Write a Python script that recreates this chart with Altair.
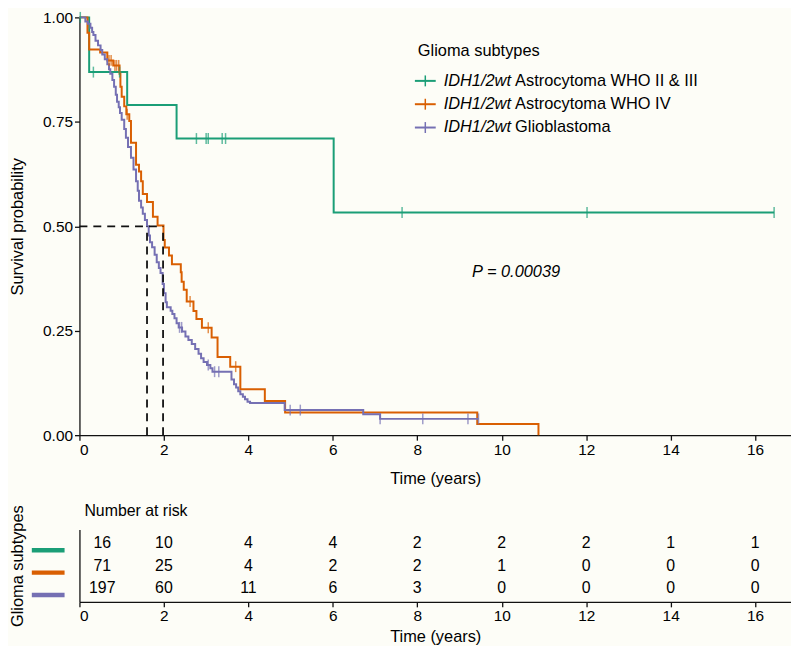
import altair as alt
import pandas as pd

FONT = "Liberation Sans"

# ---------------- data ----------------
groups = ["Astrocytoma WHO II & III", "Astrocytoma WHO IV", "Glioblastoma"]
prefix = "IDH1/2wt"
colors = ["#1b9e77", "#d95f02", "#7570b3"]

green_t = [0, 0.23, 1.13, 2.30, 6.02, 16.45]
green_s = [1.0, 0.869, 0.790, 0.710, 0.533, 0.533]

orange_t = [0, 0.19, 0.23, 0.49, 0.66, 0.80, 0.95, 0.97, 1.00, 1.06, 1.11, 1.18, 1.22,
            1.34, 1.41, 1.46, 1.50, 1.60, 1.74, 1.85, 1.99, 2.02, 2.12, 2.19, 2.40,
            2.42, 2.47, 2.54, 2.70, 2.77, 2.90, 3.13, 3.27, 3.57, 3.81, 4.39, 4.87,
            9.42, 10.87]
orange_s = [1.0, 0.963, 0.923, 0.916, 0.897, 0.885, 0.865, 0.834, 0.810, 0.787, 0.768,
            0.752, 0.700, 0.647, 0.631, 0.608, 0.577, 0.558, 0.523, 0.502, 0.467,
            0.449, 0.430, 0.409, 0.390, 0.367, 0.348, 0.320, 0.297, 0.278, 0.257,
            0.234, 0.187, 0.164, 0.110, 0.082, 0.054, 0.027, 0.0]

purple_t = [0, 0.10, 0.14, 0.20, 0.26, 0.30, 0.33, 0.38, 0.44, 0.50, 0.54, 0.60, 0.66,
            0.70, 0.73, 0.78, 0.82, 0.86, 0.89, 0.93, 0.96, 1.00, 1.06, 1.10, 1.15,
            1.22, 1.28, 1.34, 1.38, 1.41, 1.46, 1.50, 1.55, 1.60, 1.64, 1.67, 1.72,
            1.78, 1.83, 1.88, 1.92, 1.97, 2.00, 2.04, 2.07, 2.16, 2.20, 2.25, 2.30,
            2.35, 2.43, 2.51, 2.58, 2.66, 2.74, 2.82, 2.88, 2.94, 3.02, 3.10, 3.15,
            3.60, 3.66, 3.71, 3.76, 3.81, 3.87, 3.92, 3.98, 4.04, 4.86, 6.72, 7.12,
            9.45]
purple_s = [1.0, 1.0, 0.990, 0.985, 0.975, 0.965, 0.958, 0.944, 0.933, 0.922, 0.911,
            0.900, 0.888, 0.876, 0.865, 0.850, 0.834, 0.815, 0.798, 0.785, 0.771,
            0.755, 0.733, 0.712, 0.690, 0.664, 0.636, 0.608, 0.585, 0.561, 0.545,
            0.530, 0.515, 0.500, 0.478, 0.462, 0.450, 0.432, 0.414, 0.400, 0.388,
            0.362, 0.340, 0.318, 0.306, 0.298, 0.290, 0.280, 0.268, 0.258, 0.248,
            0.236, 0.228, 0.218, 0.206, 0.195, 0.184, 0.175, 0.168, 0.160, 0.152,
            0.133, 0.122, 0.114, 0.105, 0.098, 0.092, 0.086, 0.080, 0.077, 0.060,
            0.050, 0.039, 0.039]

green_cens_t = [0.02, 0.33, 0.95, 2.77, 3.00, 3.05, 3.38, 3.46, 7.64, 12.02, 16.45]
green_cens_s = [1.0, 0.869, 0.869, 0.71, 0.71, 0.71, 0.71, 0.71, 0.533, 0.533, 0.533]
orange_cens_t = [0.70, 0.75, 0.84, 0.88, 0.93, 1.13, 2.62, 3.05, 3.70]
orange_cens_s = [0.897, 0.897, 0.885, 0.885, 0.885, 0.768, 0.320, 0.257, 0.164]
purple_cens_t = [2.37, 2.42, 3.05, 3.20, 3.30, 4.99, 5.23, 7.12, 8.13, 9.20, 9.45]
purple_cens_s = [0.258, 0.258, 0.168, 0.152, 0.152, 0.060, 0.060, 0.039, 0.039, 0.039, 0.039]

median_t = [1.60, 1.98]       # median survival: glioblastoma, astrocytoma WHO IV
p_label = "P = 0.00039"

risk_title = "Number at risk"
risk_times = [0, 2, 4, 6, 8, 10, 12, 14, 16]
risk_green = [16, 10, 4, 4, 2, 2, 2, 1, 1]
risk_orange = [71, 25, 4, 2, 2, 1, 0, 0, 0]
risk_purple = [197, 60, 11, 6, 3, 0, 0, 0, 0]

# ---------------- tables ----------------
curve_rows = []
for g, ts, ss in zip(groups, [green_t, orange_t, purple_t], [green_s, orange_s, purple_s]):
    for i, (t, s) in enumerate(zip(ts, ss)):
        curve_rows.append({"group": g, "t": t, "s": s, "i": i})
curves = pd.DataFrame(curve_rows)

cens_rows = []
for g, ts, ss in zip(groups, [green_cens_t, orange_cens_t, purple_cens_t],
                     [green_cens_s, orange_cens_s, purple_cens_s]):
    for t, s in zip(ts, ss):
        cens_rows.append({"group": g, "t": t, "s": s})
cens = pd.DataFrame(cens_rows)

dash = pd.DataFrame({
    "t": [0, median_t[0], median_t[1]],
    "t2": [median_t[1], median_t[0], median_t[1]],
    "s": [0.5, 0.0, 0.0],
    "s2": [0.5, 0.5, 0.5],
})

risk_rows = []
for g, ns in zip(groups, [risk_green, risk_orange, risk_purple]):
    for t, n in zip(risk_times, ns):
        risk_rows.append({"group": g, "t": t, "n": n})
risk_df = pd.DataFrame(risk_rows)

# ---------------- encodings ----------------
XDOM = [0, 16.85]
color = alt.Color("group:N", scale=alt.Scale(domain=groups, range=colors), legend=None)

x_main = alt.X("t:Q", scale=alt.Scale(domain=XDOM, nice=False, zero=False),
               axis=alt.Axis(values=list(range(0, 17, 2)), title="Time (years)",
                             titlePadding=13))
y_main = alt.Y("s:Q", scale=alt.Scale(domain=[0, 1], nice=False),
               axis=alt.Axis(values=[0, 0.25, 0.5, 0.75, 1.0], format=".2f",
                             title="Survival probability", titleX=-54))

lines = alt.Chart(curves).mark_line(interpolate="step-after", strokeWidth=2).encode(
    x=x_main, y=y_main, color=color, order="i:Q", detail="group:N")

ticks = alt.Chart(cens).mark_tick(orient="vertical", size=11, thickness=1.5).encode(
    x="t:Q", y="s:Q", color=color)

dashes = alt.Chart(dash).mark_rule(strokeDash=[8, 6], strokeWidth=1.8, color="#111111").encode(
    x="t:Q", x2="t2:Q", y="s:Q", y2="s2:Q")

ptext = alt.Chart(pd.DataFrame({"t": [10.34], "s": [0.391], "lab": [p_label]})).mark_text(
    font=FONT, fontSize=16.5, fontStyle="italic", align="center", baseline="middle",
    color="black").encode(x="t:Q", y="s:Q", text="lab:N")

legend_layers = [
    alt.Chart(pd.DataFrame({"lab": ["Glioma subtypes"]})).mark_text(
        font=FONT, fontSize=16.5, align="left", baseline="middle", color="black").encode(
        x=alt.value(341), y=alt.value(34), text="lab:N")
]
for i, g in enumerate(groups):
    yy = 64 + i * 23.5
    df = pd.DataFrame({"group": [g], "pre": [prefix]})
    legend_layers.append(alt.Chart(df).mark_rule(strokeWidth=2).encode(
        x=alt.value(338), x2=alt.value(359), y=alt.value(yy), color=color))
    legend_layers.append(alt.Chart(df).mark_rule(strokeWidth=1.5).encode(
        x=alt.value(348.5), y=alt.value(yy - 5.5), y2=alt.value(yy + 5.5), color=color))
    legend_layers.append(alt.Chart(df).mark_text(
        font=FONT, fontSize=16.5, fontStyle="italic", align="left", baseline="middle",
        color="black").encode(x=alt.value(367), y=alt.value(yy), text="pre:N"))
    legend_layers.append(alt.Chart(df).mark_text(
        font=FONT, fontSize=16.5, align="left", baseline="middle", color="black").encode(
        x=alt.value(439), y=alt.value(yy), text="group:N"))

main = alt.layer(lines, ticks, dashes, ptext, *legend_layers).properties(width=717, height=421)

# ---------------- risk table ----------------
x_risk = alt.X("t:Q", scale=alt.Scale(domain=XDOM, nice=False, zero=False),
               axis=alt.Axis(values=list(range(0, 17, 2)), title="Time (years)",
                             titlePadding=4))
y_risk = alt.Y("group:N", scale=alt.Scale(type="band", domain=groups, paddingInner=0,
                                          paddingOuter=0.122),
               axis=alt.Axis(title="Glioma subtypes", labels=False, ticks=False,
                             domain=True, titleX=-54))

nums = alt.Chart(risk_df[risk_df["t"] > 0]).mark_text(
    font=FONT, fontSize=16, baseline="middle", align="center", color="black").encode(
    x=x_risk, y=y_risk, text="n:Q")
nums0 = alt.Chart(risk_df[risk_df["t"] == 0]).mark_text(
    font=FONT, fontSize=16, baseline="middle", align="center", dx=23, color="black").encode(
    x="t:Q", y="group:N", text="n:Q")
bars = alt.Chart(pd.DataFrame({"group": groups})).mark_rule(strokeWidth=4.5, yOffset=7).encode(
    x=alt.value(-48), x2=alt.value(-15), y="group:N", color=color)
rtitle = alt.Chart(pd.DataFrame({"lab": [risk_title]})).mark_text(
    font=FONT, fontSize=16, align="left", baseline="middle", color="black").encode(
    x=alt.value(5), y=alt.value(-19), text="lab:N")

risk = alt.layer(nums, nums0, bars, rtitle).properties(width=717, height=73)

chart = alt.vconcat(main, risk, spacing=95, bounds="flush").properties(
    background="#fdfdf7",
    padding={"left": 2, "top": 0, "right": 0, "bottom": 0},
).configure_view(stroke=None).configure_axis(
    labelFont=FONT, titleFont=FONT, labelFontSize=15.5, titleFontSize=16.5,
    titleFontWeight="normal", labelColor="black", titleColor="black",
    domainColor="#111111", tickColor="#111111", domainWidth=1.3, tickWidth=1.3,
    tickSize=5, grid=False,
)

chart.save("out.html", embed_options={"renderer": "svg", "actions": False})
